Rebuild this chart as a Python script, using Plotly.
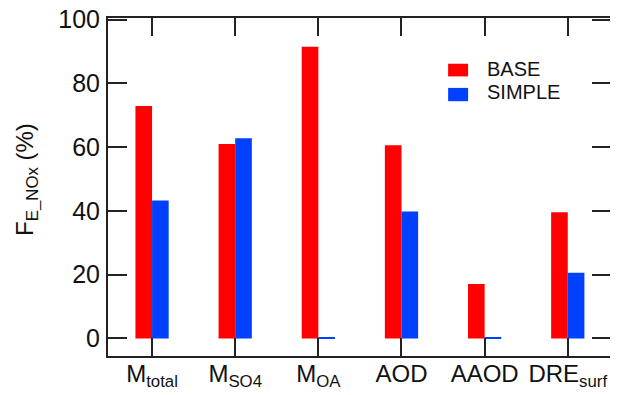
import plotly.graph_objects as go

categories = ["M<sub>total</sub>", "M<sub>SO4</sub>", "M<sub>OA</sub>", "AOD", "AAOD", "DRE<sub>surf</sub>"]
series_names = ["BASE", "SIMPLE"]
base_values = [72.9, 61.0, 91.5, 60.6, 17.1, 39.6]
simple_values = [43.3, 62.8, 0.3, 39.8, 0.3, 20.6]
y_tick_values = [0, 20, 40, 60, 80, 100]
y_tick_labels = ["0", "20", "40", "60", "80", "100"]
y_title = "F<sub>E_NOx</sub> (%)"

colors = ["#FF0000", "#0040FF"]
x_idx = list(range(len(categories)))

fig = go.Figure()
for name, vals, col in zip(series_names, [base_values, simple_values], colors):
    fig.add_trace(go.Bar(x=x_idx, y=vals, name=name, marker=dict(color=col, line=dict(width=0))))

axis_color = "#222222"
text_color = "#111111"
fig.update_layout(
    width=610, height=387,
    margin=dict(l=99.5, r=6.5, t=9.5, b=39, pad=0, autoexpand=False),
    plot_bgcolor="white", paper_bgcolor="white",
    barmode="group", bargap=0.6, bargroupgap=0,
    font=dict(family="Liberation Sans, Arial, sans-serif", color=text_color),
    showlegend=False,
)
fig.update_xaxes(
    range=[-0.53, 5.52], tickmode="array", tickvals=x_idx, ticktext=categories,
    showline=True, linecolor=axis_color, linewidth=2, mirror="ticks",
    ticks="inside", ticklen=18, tickwidth=2, tickcolor=axis_color,
    tickfont=dict(size=24, color=text_color), showgrid=False, zeroline=False,
    automargin=False, ticklabelstandoff=-5, ticklabeloverflow="allow",
)
fig.update_yaxes(
    range=[-5.5, 100.5], tickmode="array", tickvals=y_tick_values, ticktext=y_tick_labels,
    showline=True, linecolor=axis_color, linewidth=2, mirror="ticks",
    ticks="inside", ticklen=19, tickwidth=2, tickcolor=axis_color,
    tickfont=dict(size=25, color=text_color), showgrid=False, zeroline=False,
    ticklabelstandoff=1, automargin=False, ticklabeloverflow="allow",
)

# y-axis title
fig.add_annotation(text=y_title, xref="paper", yref="paper", x=-0.1617, y=0.523,
                   xanchor="center", yanchor="middle", textangle=-90, showarrow=False,
                   font=dict(size=24, color=text_color))

# legend (boxes + labels)
legend_boxes = [(0.8647, 0.8272), (0.7932, 0.7539)]
legend_text_y = [0.8483, 0.7820]
for name, col, (y1, y0), ty in zip(series_names, colors, legend_boxes, legend_text_y):
    fig.add_shape(type="rect", xref="paper", yref="paper", x0=0.6762, x1=0.7159, y0=y0, y1=y1,
                  fillcolor=col, line=dict(width=0))
    fig.add_annotation(text=name, xref="paper", yref="paper", x=0.7524, y=ty,
                       xanchor="left", yanchor="middle", showarrow=False,
                       font=dict(size=20, color=text_color), borderpad=0)

fig.write_html("out.html")
